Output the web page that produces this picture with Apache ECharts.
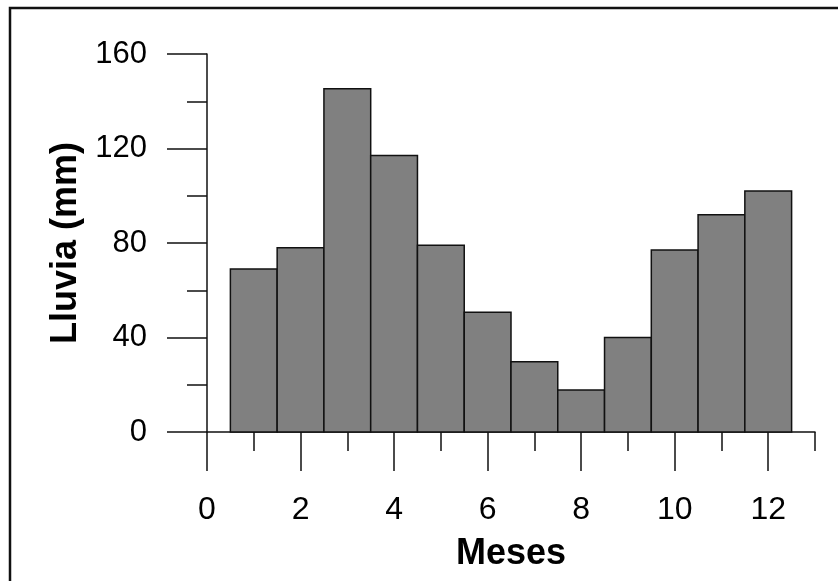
<!DOCTYPE html>
<html>
<head>
<meta charset="utf-8">
<script src="https://cdn.jsdelivr.net/npm/echarts@6/dist/echarts.min.js"></script>
<style>
html,body{margin:0;padding:0;background:#fff;}
#chart{width:838px;height:581px;}
</style>
</head>
<body>
<div id="chart"></div>
<script>
const months = [1, 2, 3, 4, 5, 6, 7, 8, 9, 10, 11, 12];
const rain = [69, 78, 145.3, 117, 79, 50.7, 29.7, 17.8, 40, 77, 92, 102];
const xMinorTicks = [0, 1, 2, 3, 4, 5, 6, 7, 8, 9, 10, 11, 12, 13];
const xMajorTicks = [0, 2, 4, 6, 8, 10, 12];
const yMinorTicks = [0, 20, 40, 60, 80, 100, 120, 140, 160];
const yMajorTicks = [0, 40, 80, 120, 160];
const xTitle = 'Meses';
const yTitle = 'Lluvia (mm)';

const FONT = '"Liberation Sans", Arial, sans-serif';
const chart = echarts.init(document.getElementById('chart'));
const lineStyle = {color: '#111', width: 1.5};

chart.setOption({
  backgroundColor: '#fff',
  animation: false,
  graphic: [{
    type: 'rect', z: -1, silent: true,
    shape: {x: 10, y: 8, width: 850, height: 600},
    style: {fill: 'none', stroke: '#111', lineWidth: 2.5}
  }],
  grid: {left: 207, top: 54, width: 608, height: 378, containLabel: false},
  xAxis: [{
    type: 'value', min: 0, max: 13, interval: 1, position: 'bottom',
    axisLine: {show: true, onZero: false, lineStyle: lineStyle},
    axisTick: {show: true, length: 19, customValues: xMinorTicks, lineStyle: lineStyle},
    axisLabel: {customValues: xMajorTicks, fontSize: 32, fontFamily: FONT, color: '#000', margin: 62},
    splitLine: {show: false},
    name: xTitle, nameLocation: 'middle', nameGap: 104,
    nameTextStyle: {fontSize: 36, fontWeight: 'bold', fontFamily: FONT, color: '#000'}
  }, {
    type: 'value', min: 0, max: 13, interval: 1, position: 'bottom',
    axisLine: {show: false},
    axisTick: {show: true, length: 39, customValues: xMajorTicks, lineStyle: lineStyle},
    axisLabel: {show: false},
    splitLine: {show: false}
  }],
  yAxis: [{
    type: 'value', min: 0, max: 160, interval: 20, position: 'left',
    axisLine: {show: true, onZero: false, lineStyle: lineStyle},
    axisTick: {show: true, length: 20, customValues: yMinorTicks, lineStyle: lineStyle},
    axisLabel: {customValues: yMajorTicks, fontSize: 31, fontFamily: FONT, color: '#000', margin: 60},
    splitLine: {show: false},
    name: yTitle, nameLocation: 'middle', nameRotate: 90, nameGap: 121,
    nameTextStyle: {fontSize: 36, fontWeight: 'bold', fontFamily: FONT, color: '#000'}
  }, {
    type: 'value', min: 0, max: 160, interval: 20, position: 'left',
    axisLine: {show: false},
    axisTick: {show: true, length: 40, customValues: yMajorTicks, lineStyle: lineStyle},
    axisLabel: {show: false},
    splitLine: {show: false}
  }],
  series: [{
    type: 'custom',
    xAxisIndex: 0, yAxisIndex: 0,
    data: months.map((m, i) => [m, rain[i]]),
    renderItem: function (params, api) {
      const x = api.value(0), v = api.value(1);
      const p0 = api.coord([x - 0.5, 0]);
      const p1 = api.coord([x + 0.5, v]);
      return {
        type: 'rect',
        shape: {x: p0[0], y: p1[1], width: p1[0] - p0[0], height: p0[1] - p1[1]},
        style: {fill: '#808080', stroke: '#111', lineWidth: 1.5}
      };
    }
  }]
});
</script>
</body>
</html>
